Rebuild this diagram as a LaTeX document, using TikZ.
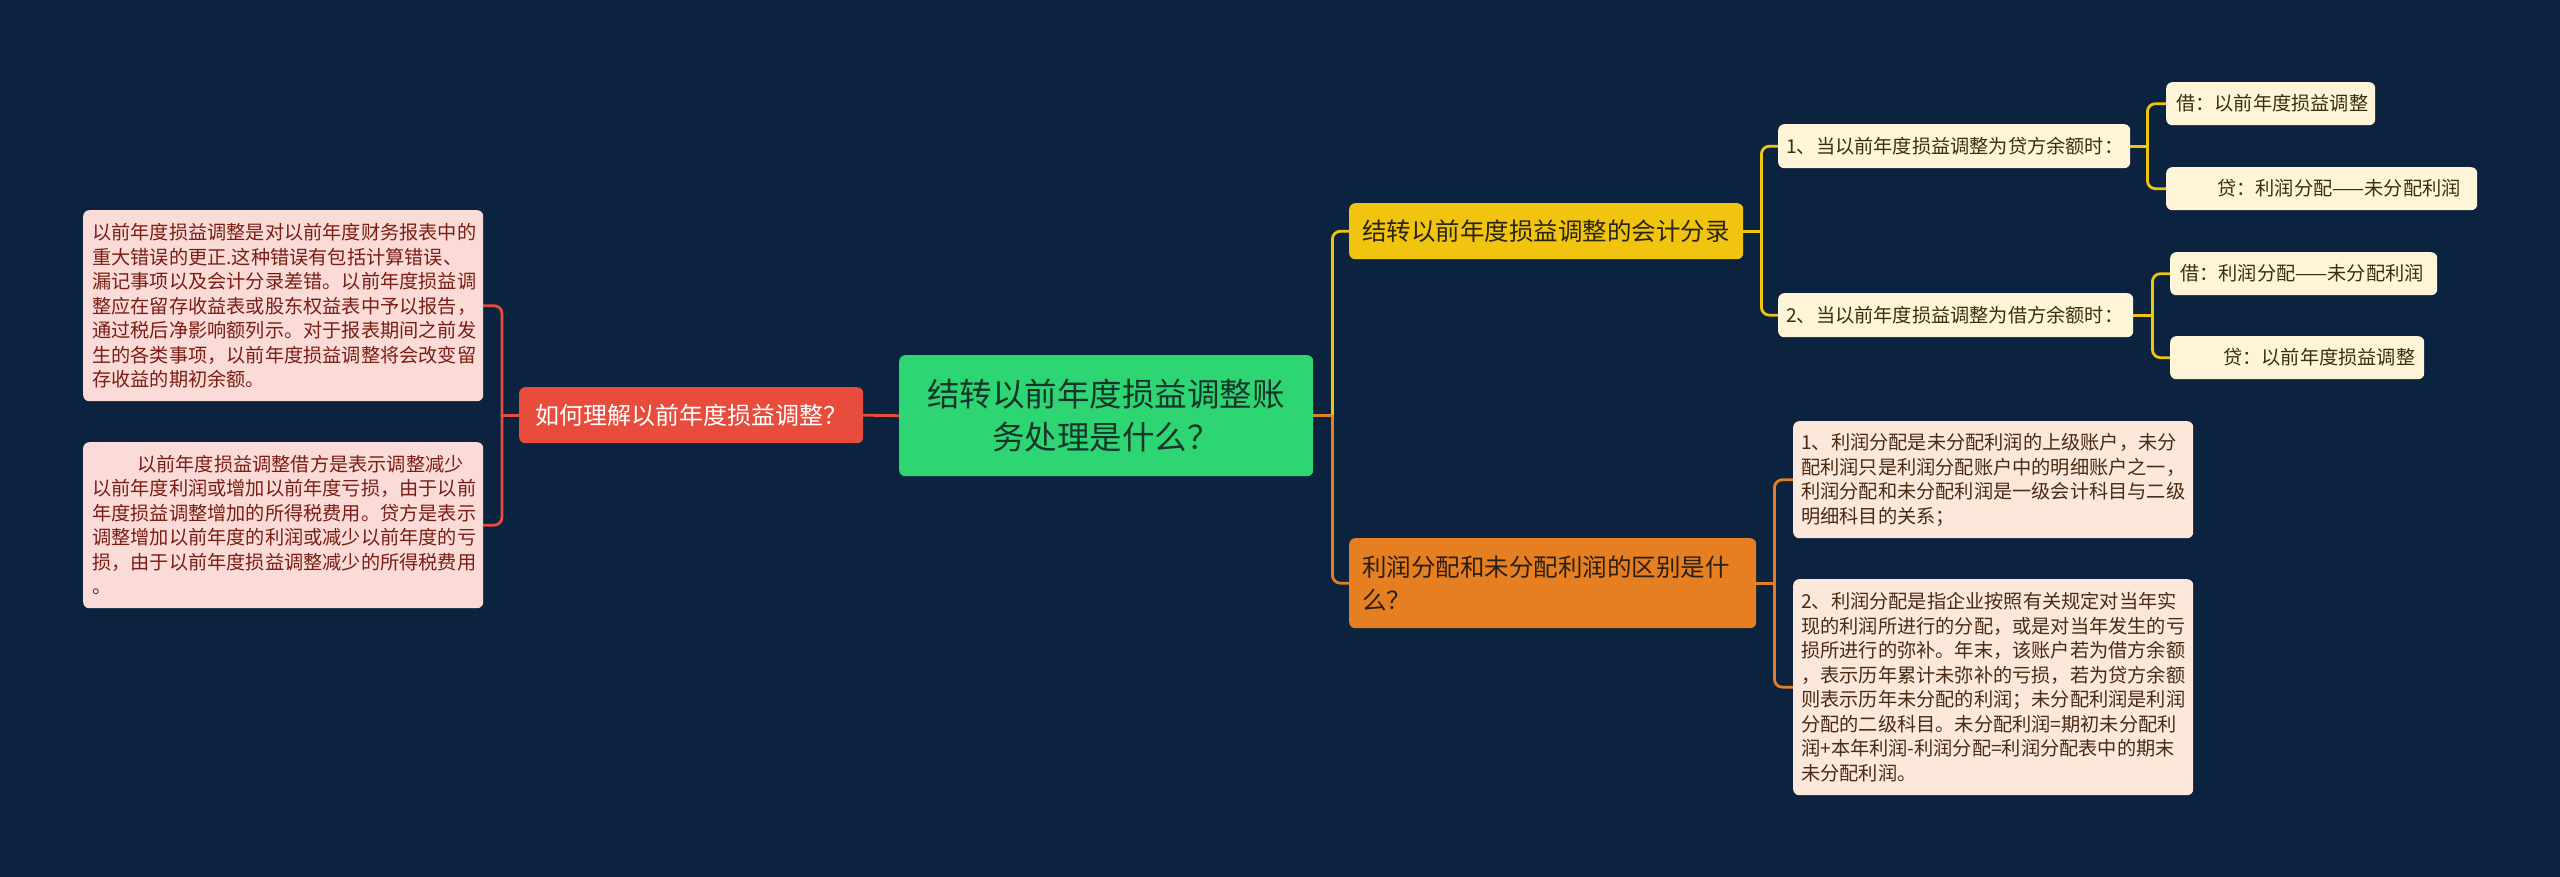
\documentclass[tikz,border=0pt]{standalone}
\usepackage{fontspec}
\newfontfamily\cjk{Noto Sans CJK SC}
\usetikzlibrary{calc}
\pgfdeclarelayer{back}
\pgfdeclarelayer{edges}
\pgfsetlayers{back,edges,main}
\definecolor{bg}{HTML}{0C2340}
\definecolor{cGreen}{HTML}{2ED573}
\definecolor{cGreenTxt}{HTML}{15352A}
\definecolor{cRed}{HTML}{E74C3C}
\definecolor{cYellow}{HTML}{F1C40F}
\definecolor{cYellowTxt}{HTML}{2A2410}
\definecolor{cOrange}{HTML}{E67E22}
\definecolor{cOrangeTxt}{HTML}{2B1F10}
\definecolor{cPink}{HTML}{FADBD8}
\definecolor{cPinkTxt}{HTML}{7A1E14}
\definecolor{cCream}{HTML}{FEF5D9}
\definecolor{cCreamTxt}{HTML}{3A2E10}
\definecolor{cPeach}{HTML}{FCE8DA}
\definecolor{cPeachTxt}{HTML}{4A2A12}
\tikzset{
  card/.style={rounded corners=6, anchor=north west, inner xsep=10pt, inner ysep=0pt, align=left},
  leaffont/.style={font=\cjk\fontsize{19.2}{24.5}\selectfont},
  subfont/.style={font=\cjk\fontsize{19.2}{24}\selectfont},
  mainfont/.style={font=\cjk\fontsize{24.5}{33}\selectfont},
  conn/.style={line width=2.8pt, rounded corners=8, line cap=round},
}
\begin{document}
\begin{tikzpicture}[x=1pt,y=-1pt]
\begin{pgfonlayer}{back}
\fill[bg] (0,0) rectangle (2560,877);
\end{pgfonlayer}
\useasboundingbox (0,0) rectangle (2560,877);

% center
\node[card, fill=cGreen, text=cGreenTxt, align=center, text width=394pt, minimum height=121pt,
      font=\cjk\fontsize{32.5}{43}\selectfont] (root) at (899,355)
  {结转以前年度损益调整账\\务处理是什么？};

% left branch
\node[card, fill=cRed, text=white, align=center, text width=324pt, minimum height=56pt,
      font=\cjk\fontsize{24}{30}\selectfont] (red) at (519,387) {如何理解以前年度损益调整？};

\node[card, fill=cPink, text=cPinkTxt, leaffont, text width=386pt, minimum height=191pt, inner xsep=7pt] (la) at (83,210)
  {\hspace*{2pt}以前年度损益调整是对以前年度财务报表中的\\
   \hspace*{2pt}重大错误的更正.这种错误有包括计算错误、\\
   \hspace*{2pt}漏记事项以及会计分录差错。以前年度损益调\\
   \hspace*{2pt}整应在留存收益表或股东权益表中予以报告，\\
   \hspace*{2pt}通过税后净影响额列示。对于报表期间之前发\\
   \hspace*{2pt}生的各类事项，以前年度损益调整将会改变留\\
   \hspace*{2pt}存收益的期初余额。};

\node[card, fill=cPink, text=cPinkTxt, leaffont, text width=386pt, minimum height=166pt, inner xsep=7pt] (lb) at (83,442)
  {\hspace*{47pt}以前年度损益调整借方是表示调整减少\\
   \hspace*{2pt}以前年度利润或增加以前年度亏损，由于以前\\
   \hspace*{2pt}年度损益调整增加的所得税费用。贷方是表示\\
   \hspace*{2pt}调整增加以前年度的利润或减少以前年度的亏\\
   \hspace*{2pt}损，由于以前年度损益调整减少的所得税费用\\
   \hspace*{2pt}。};

% right branch: yellow
\node[card, fill=cYellow, text=cYellowTxt, mainfont, text width=368pt, minimum height=56pt, inner xsep=13pt] (yel) at (1349,203)
  {结转以前年度损益调整的会计分录};

\node[card, fill=cCream, text=cCreamTxt, subfont, text width=336pt, minimum height=44pt, inner xsep=8pt] (s1) at (1778,124)
  {1、当以前年度损益调整为贷方余额时：};
\node[card, fill=cCream, text=cCreamTxt, subfont, text width=339pt, minimum height=44pt, inner xsep=8pt] (s2) at (1778,293)
  {2、当以前年度损益调整为借方余额时：};

\node[card, fill=cCream, text=cCreamTxt, leaffont, text width=189pt, minimum height=43pt] (k1) at (2166,82)
  {借：以前年度损益调整};
\node[card, fill=cCream, text=cCreamTxt, leaffont, text width=291pt, minimum height=43pt] (k2) at (2166,167)
  {\hspace*{41pt}贷：利润分配——未分配利润};
\node[card, fill=cCream, text=cCreamTxt, leaffont, text width=247pt, minimum height=43pt] (k3) at (2170,252)
  {借：利润分配——未分配利润};
\node[card, fill=cCream, text=cCreamTxt, leaffont, text width=234pt, minimum height=43pt] (k4) at (2170,336)
  {\hspace*{43pt}贷：以前年度损益调整};

% right branch: orange
\node[card, fill=cOrange, text=cOrangeTxt, mainfont, text width=381pt, minimum height=90pt, inner xsep=13pt] (ora) at (1349,538)
  {利润分配和未分配利润的区别是什\\么？};

\node[card, fill=cPeach, text=cPeachTxt, leaffont, text width=384pt, minimum height=117pt, inner xsep=8pt] (r1) at (1793,421)
  {1、利润分配是未分配利润的上级账户，未分\\
   配利润只是利润分配账户中的明细账户之一，\\
   利润分配和未分配利润是一级会计科目与二级\\
   明细科目的关系；};
\node[card, fill=cPeach, text=cPeachTxt, leaffont, text width=384pt, minimum height=216pt, inner xsep=8pt] (r2) at (1793,579)
  {2、利润分配是指企业按照有关规定对当年实\\
   现的利润所进行的分配，或是对当年发生的亏\\
   损所进行的弥补。年末，该账户若为借方余额\\
   ，表示历年累计未弥补的亏损，若为贷方余额\\
   则表示历年未分配的利润；未分配利润是利润\\
   分配的二级科目。未分配利润=期初未分配利\\
   润+本年利润-利润分配=利润分配表中的期末\\
   未分配利润。};

% connectors
\begin{pgfonlayer}{edges}
\draw[conn, cRed] (root.west) -- (red.east);
\draw[conn, cRed] (red.west) -- ++(-17,0);
\draw[conn, cRed] ($(red.west)+(-17,0)$) |- (la.east);
\draw[conn, cRed] ($(red.west)+(-17,0)$) |- (lb.east);

\draw[conn, cOrange] (root.east) -- ++(19,0);
\draw[conn, cYellow] ($(root.east)+(19,0)$) |- (yel.west);
\draw[conn, cOrange] ($(root.east)+(19,0)$) |- (ora.west);

\draw[conn, cYellow] (yel.east) -- ++(18,0);
\draw[conn, cYellow] ($(yel.east)+(18,0)$) |- (s1.west);
\draw[conn, cYellow] ($(yel.east)+(18,0)$) |- (s2.west);

\draw[conn, cYellow] (s1.east) -- ++(17,0);
\draw[conn, cYellow] ($(s1.east)+(17,0)$) |- (k1.west);
\draw[conn, cYellow] ($(s1.east)+(17,0)$) |- (k2.west);

\draw[conn, cYellow] (s2.east) -- ++(19,0);
\draw[conn, cYellow] ($(s2.east)+(19,0)$) |- (k3.west);
\draw[conn, cYellow] ($(s2.east)+(19,0)$) |- (k4.west);

\draw[conn, cOrange] (ora.east) -- ++(18,0);
\draw[conn, cOrange] ($(ora.east)+(18,0)$) |- (r1.west);
\draw[conn, cOrange] ($(ora.east)+(18,0)$) |- (r2.west);
\end{pgfonlayer}
\end{tikzpicture}
\end{document}
